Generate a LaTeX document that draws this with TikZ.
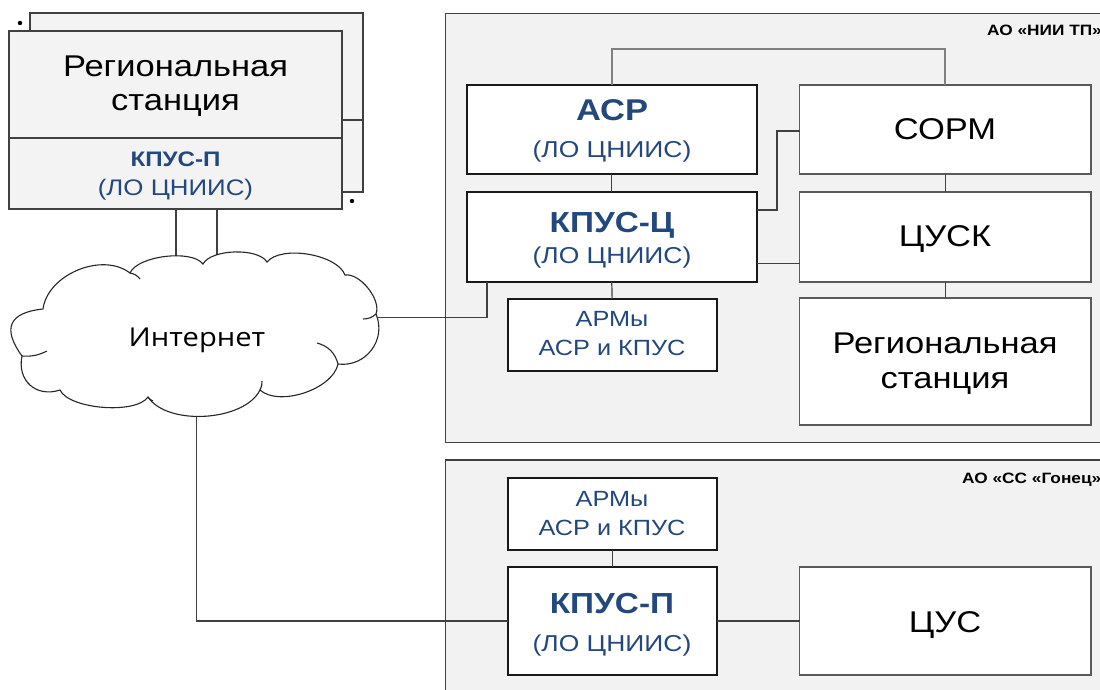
\documentclass[tikz,border=0pt]{standalone}
\usepackage{fontspec}
\setmainfont{Liberation Sans}[FakeStretch=1.15]
\newfontfamily\cloudfont{Open Sans}[FakeStretch=1.12]
\newcommand\txtsize[1]{\fontsize{#1}{#1}\selectfont}
\definecolor{kblue}{RGB}{35,72,125}
\definecolor{panel}{RGB}{242,242,242}
\definecolor{edge}{RGB}{64,64,64}
\definecolor{soft}{RGB}{90,90,90}
\tikzset{
  panelbox/.style={draw=edge, line width=1.2pt, fill=panel, rectangle, inner sep=0pt, outer sep=0pt, anchor=north west},
  strongbox/.style={draw=black!90, line width=2pt, fill=white, rectangle, inner sep=0pt, outer sep=0pt, anchor=north west},
  plainbox/.style={draw=soft, line width=1.3pt, fill=white, rectangle, inner sep=0pt, outer sep=0pt, anchor=north west},
  link/.style={draw=edge, line width=1.2pt},
  toplink/.style={draw=black!50, line width=2pt},
  cloudline/.style={draw=black!85, line width=1.1pt},
  txt/.style={anchor=base, inner sep=0pt},
  big/.style={txt, font=\txtsize{30}},
  head/.style={txt, font=\txtsize{29}\bfseries, text=kblue},
  sub/.style={txt, font=\txtsize{23}, text=kblue},
  arm/.style={txt, font=\txtsize{22}, text=kblue},
  org/.style={anchor=base west, inner sep=0pt, font=\txtsize{15}\bfseries},
}
\begin{document}
\begin{tikzpicture}[x=1pt,y=1pt]
\useasboundingbox (0,0) rectangle (1100,-689);
\clip (0,0) rectangle (1100,-689);

% organisation panels
\node[panelbox, minimum width=690, minimum height=429.5] (nii) at (445.5,-13.3) {};
\node[panelbox, minimum width=690, minimum height=260] (gonets) at (445.5,-460) {};

% regional station stack (top left)
\node[panelbox, fill=panel!90!white, minimum width=333, minimum height=179] (rsback) at (30,-13) {};
\draw[link] (342,-120) -- (rsback.east |- 0,-120);
\node[panelbox, fill=panel!90!white, minimum width=333, minimum height=178] (rs) at (9,-31) {};
\draw[link] (rs.west |- 0,-138) -- (rs.east |- 0,-138);
\fill (20,-23) circle (2.2);
\fill (352,-201) circle (2.2);

% cloud attachment points
\coordinate (netT1) at (176,-266);
\coordinate (netT2) at (217,-262);
\coordinate (netR) at (378,-317.3);
\coordinate (netB) at (196.7,-410);

% boxes of the upper panel
\node[strongbox, minimum width=290.5, minimum height=89] (asr) at (466.5,-85) {};
\node[strongbox, minimum width=290.5, minimum height=89.7] (kpc) at (466.5,-192) {};
\node[strongbox, minimum width=209.3, minimum height=72] (arm1) at (507.5,-299) {};
\node[plainbox, minimum width=291.5, minimum height=89] (sorm) at (799.5,-85) {};
\node[plainbox, minimum width=291.5, minimum height=90] (cusk) at (799.5,-192) {};
\node[plainbox, minimum width=291.5, minimum height=127] (rst) at (799.5,-298) {};

% boxes of the lower panel
\node[strongbox, minimum width=209.3, minimum height=72] (arm2) at (507.5,-478) {};
\node[strongbox, minimum width=209.3, minimum height=108] (kpp) at (507.5,-567) {};
\node[plainbox, minimum width=291.5, minimum height=108] (cus) at (799.5,-567) {};

% connectors
\draw[toplink] (asr.north) -- ++(0,36) -| (sorm.north);
\draw[link] (asr.south) -- (kpc.north);
\draw[link] (kpc.east |- 0,-210) -- (777,-210) |- (sorm.west |- 0,-131);
\draw[link] (kpc.east |- 0,-263.3) -- (cusk.west |- 0,-263.3);
\draw[link] (sorm.south) -- (cusk.north);
\draw[link] (cusk.south) -- (rst.north);
\draw[link] (kpc.south) -- (arm1.north);
\draw[link] (487,0 |- kpc.south) -- (487,-317.3) -- (netR);
\draw[link] (netB) -- (196.7,-621) -- (kpp.west);
\draw[link] (arm2.south) -- (kpp.north);
\draw[link] (kpp.east) -- (cus.west);
\draw[link] (176,0 |- rs.south) -- (netT1);
\draw[link] (217,0 |- rs.south) -- (netT2);

% the Internet cloud
\coordinate (cA) at (43,-309);
\coordinate (cB) at (130,-273);
\coordinate (cC) at (203,-264);
\coordinate (cD) at (267,-262);
\coordinate (cE) at (345,-275);
\coordinate (cF) at (376,-314);
\coordinate (cG) at (338,-364);
\coordinate (cH) at (260,-390);
\coordinate (cI) at (148,-397);
\coordinate (cJ) at (60,-390);
\coordinate (cK) at (22,-356);
\draw[cloudline, fill=white]
  (cK) to[bend left=60, looseness=1.7] (cA)
       to[bend left=60, looseness=0.95] (cB)
       to[bend left=60, looseness=0.65] (cC)
       to[bend left=60, looseness=0.68] (cD)
       to[bend left=60, looseness=0.72] (cE)
       to[bend left=60, looseness=0.78] (cF)
       to[bend left=60, looseness=1.14] (cG)
       to[bend left=60, looseness=0.8] (cH)
       to[bend left=60, looseness=0.8] (cI)
       to[bend left=60, looseness=0.62] (cJ)
       to[bend left=60, looseness=1.26] (cK) -- cycle;
\draw[cloudline] (cB) to[bend left=20] (140,-279);
\draw[cloudline] (363,-319) to[bend right=20] (cF);
\draw[cloudline] (317,-343) to[bend left=30] (cG);
\draw[cloudline] (262,-381) to[bend left=15] (cH);
\draw[cloudline] (cI) to[bend right=15] (153,-401);
\draw[cloudline] (47,-351) to[bend left=15] (cK);
\node[txt, font=\cloudfont\txtsize{26}] (net) at (197,-346) {Интернет};

% texts
\node[org] (niiL) at (987,-35) {АО «НИИ ТП»};
\node[org] (gonL) at (962,-483) {АО «СС «Гонец»};

\node[big] (rsT1) at (175.5,-76) {Региональная};
\node[big] (rsT2) at (175.5,-110) {станция};
\node[txt, font=\txtsize{21}\bfseries, text=kblue] (rsK) at (175.5,-166.7) {КПУС-П};
\node[txt, font=\txtsize{22.5}, text=kblue] (rsL) at (175.5,-195) {(ЛО ЦНИИС)};

\node[head, font=\txtsize{30}\bfseries] (asrT) at (612,-120) {АСР};
\node[sub] (asrL) at (612,-157) {(ЛО ЦНИИС)};
\node[head] (kpcT) at (612,-232) {КПУС-Ц};
\node[sub] (kpcL) at (612,-263) {(ЛО ЦНИИС)};
\node[arm] (arm1T) at (612,-326.7) {АРМы};
\node[arm] (arm1L) at (612,-355) {АСР и КПУС};

\node[big] (sormT) at (945,-139.3) {СОРМ};
\node[big] (cuskT) at (945,-246.7) {ЦУСК};
\node[big] (rstT1) at (945,-353.5) {Региональная};
\node[big] (rstT2) at (945,-388) {станция};

\node[arm] (arm2T) at (612,-506.7) {АРМы};
\node[arm] (arm2L) at (612,-535) {АСР и КПУС};
\node[head] (kppT) at (612,-613.3) {КПУС-П};
\node[sub] (kppL) at (612,-651.5) {(ЛО ЦНИИС)};
\node[big] (cusT) at (945,-632.7) {ЦУС};
\end{tikzpicture}
\end{document}
